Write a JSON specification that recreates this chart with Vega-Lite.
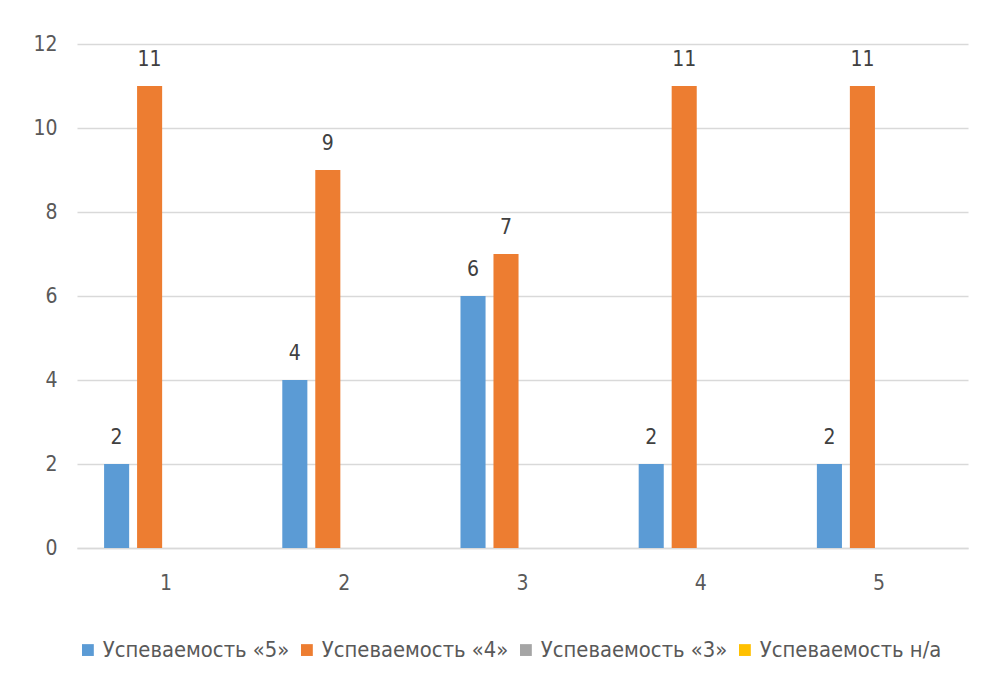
{
  "$schema": "https://vega.github.io/schema/vega-lite/v6.json",
  "autosize": {"type": "none"},
  "padding": {"left": 77, "top": 44, "right": 20, "bottom": 141},
  "width": 891,
  "height": 504,
  "background": "white",
  "data": {"values": [
    {"g": "1", "s": "Успеваемость «5»", "v": 2},
    {"g": "1", "s": "Успеваемость «4»", "v": 11},
    {"g": "1", "s": "Успеваемость «3»", "v": null},
    {"g": "1", "s": "Успеваемость н/а", "v": null},
    {"g": "2", "s": "Успеваемость «5»", "v": 4},
    {"g": "2", "s": "Успеваемость «4»", "v": 9},
    {"g": "2", "s": "Успеваемость «3»", "v": null},
    {"g": "2", "s": "Успеваемость н/а", "v": null},
    {"g": "3", "s": "Успеваемость «5»", "v": 6},
    {"g": "3", "s": "Успеваемость «4»", "v": 7},
    {"g": "3", "s": "Успеваемость «3»", "v": null},
    {"g": "3", "s": "Успеваемость н/а", "v": null},
    {"g": "4", "s": "Успеваемость «5»", "v": 2},
    {"g": "4", "s": "Успеваемость «4»", "v": 11},
    {"g": "4", "s": "Успеваемость «3»", "v": null},
    {"g": "4", "s": "Успеваемость н/а", "v": null},
    {"g": "5", "s": "Успеваемость «5»", "v": 2},
    {"g": "5", "s": "Успеваемость «4»", "v": 11},
    {"g": "5", "s": "Успеваемость «3»", "v": null},
    {"g": "5", "s": "Успеваемость н/а", "v": null}
  ]},
  "encoding": {
    "x": {"field": "g", "type": "nominal", "sort": null,
      "scale": {"paddingInner": 0.304, "paddingOuter": 0.152},
      "axis": {"title": null, "labelAngle": 0, "ticks": false, "domainColor": "#d9d9d9", "domainWidth": 1.5, "labelPadding": 24, "labelFontSize": 21, "labelColor": "#595959", "labelFont": "DejaVu Sans Condensed, Roboto"}},
    "xOffset": {"field": "s", "type": "nominal", "sort": null,
      "scale": {"paddingInner": 0.24, "paddingOuter": 0, "domain": ["Успеваемость «5»", "Успеваемость «4»", "Успеваемость «3»", "Успеваемость н/а"]}},
    "y": {"field": "v", "type": "quantitative",
      "scale": {"domain": [0, 12]},
      "axis": {"title": null, "values": [0, 2, 4, 6, 8, 10, 12], "domain": false, "ticks": false, "gridColor": "#d9d9d9", "gridWidth": 1.3, "labelPadding": 20, "labelFontSize": 21, "labelColor": "#595959", "labelFont": "DejaVu Sans Condensed, Roboto"}}
  },
  "layer": [
    {
      "mark": {"type": "bar"},
      "encoding": {
        "color": {"field": "s", "type": "nominal",
          "scale": {"domain": ["Успеваемость «5»", "Успеваемость «4»", "Успеваемость «3»", "Успеваемость н/а"], "range": ["#5b9bd5", "#ed7d31", "#a5a5a5", "#ffc000"]},
          "legend": {"title": null, "orient": "bottom", "direction": "horizontal", "columns": 4, "symbolType": "square", "symbolSize": 140, "symbolStrokeWidth": 0, "labelFontSize": 21.8, "labelLimit": 400, "labelColor": "#595959", "labelFont": "DejaVu Sans Condensed, Roboto", "offset": 46, "columnPadding": 6, "labelOffset": 4}}
      }
    },
    {
      "mark": {"type": "text", "dy": -26, "fontSize": 21, "color": "#404040", "font": "DejaVu Sans Condensed, Roboto"},
      "encoding": {"text": {"field": "v", "type": "quantitative"}}
    }
  ],
  "config": {"view": {"stroke": null}}
}
